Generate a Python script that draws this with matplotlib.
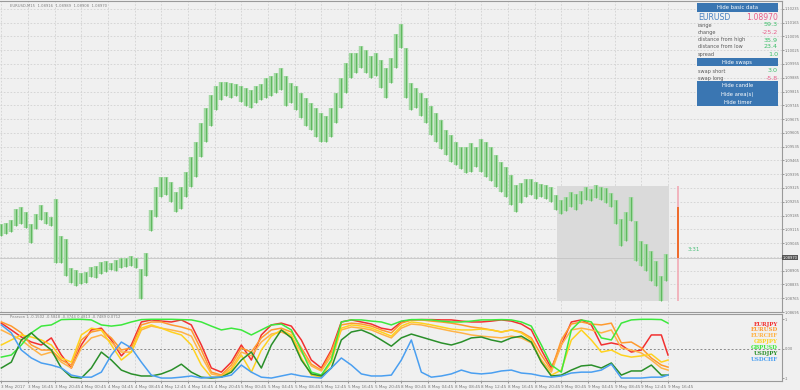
import matplotlib
matplotlib.use("Agg")
import matplotlib.pyplot as plt

# ---------------- data ----------------
# EURUSD M15 price bars, sampled every 3 bars (bar 0 = 3 May 12:45)
bar_idx = list(range(0, 400, 3))
highs = [1.09140,1.09145,1.09160,1.09220,1.09230,1.09205,1.09140,1.09195,1.09240,1.09205,
         1.09180,1.09270,1.09079,1.09064,1.08918,1.08908,1.08893,1.08898,1.08924,1.08929,
         1.08949,1.08954,1.08944,1.08959,1.08969,1.08969,1.08979,1.08969,1.08913,1.08994,
         1.09215,1.09331,1.09381,1.09381,1.09356,1.09305,1.09331,1.09406,1.09481,1.09557,
         1.09657,1.09733,1.09798,1.09843,1.09863,1.09863,1.09858,1.09853,1.09843,1.09833,
         1.09823,1.09843,1.09853,1.09883,1.09893,1.09908,1.09934,1.09893,1.09858,1.09843,
         1.09808,1.09783,1.09758,1.09733,1.09707,1.09692,1.09733,1.09808,1.09883,1.09959,
         1.10009,1.10009,1.10044,1.10024,1.09994,1.10009,1.09974,1.09934,1.09984,1.10109,
         1.10160,1.10034,1.09858,1.09833,1.09808,1.09783,1.09743,1.09707,1.09672,1.09622,
         1.09592,1.09557,1.09532,1.09532,1.09552,1.09532,1.09572,1.09557,1.09532,1.09491,
         1.09456,1.09431,1.09391,1.09341,1.09351,1.09371,1.09371,1.09356,1.09346,1.09341,
         1.09331,1.09290,1.09265,1.09280,1.09305,1.09295,1.09310,1.09331,1.09320,1.09341,
         1.09331,1.09326,1.09300,1.09265,1.09170,1.09205,1.09280,1.09155,1.09054,1.09039,
         1.09004,1.08954,1.08878,1.08989]
lows  = [1.09079,1.09089,1.09099,1.09130,1.09140,1.09120,1.09044,1.09115,1.09160,1.09140,
         1.09130,1.08944,1.08944,1.08878,1.08843,1.08828,1.08838,1.08843,1.08873,1.08868,
         1.08888,1.08898,1.08908,1.08903,1.08918,1.08924,1.08929,1.08918,1.08763,1.08878,
         1.09104,1.09180,1.09280,1.09290,1.09255,1.09205,1.09220,1.09280,1.09331,1.09381,
         1.09481,1.09557,1.09642,1.09723,1.09773,1.09793,1.09783,1.09793,1.09763,1.09743,
         1.09733,1.09758,1.09773,1.09783,1.09793,1.09808,1.09823,1.09743,1.09758,1.09723,
         1.09682,1.09642,1.09622,1.09582,1.09557,1.09557,1.09582,1.09657,1.09733,1.09808,
         1.09883,1.09908,1.09934,1.09908,1.09883,1.09893,1.09833,1.09783,1.09858,1.09934,
         1.10034,1.09783,1.09723,1.09733,1.09692,1.09657,1.09592,1.09557,1.09522,1.09491,
         1.09456,1.09441,1.09421,1.09401,1.09406,1.09431,1.09406,1.09381,1.09361,1.09331,
         1.09305,1.09280,1.09240,1.09205,1.09250,1.09280,1.09290,1.09270,1.09280,1.09270,
         1.09255,1.09215,1.09195,1.09210,1.09230,1.09215,1.09245,1.09265,1.09260,1.09275,
         1.09265,1.09250,1.09230,1.09140,1.09029,1.09054,1.09155,1.08954,1.08929,1.08903,
         1.08853,1.08828,1.08753,1.08853]

last_price = 1.08970
price_ticks = [1.10235 - 0.0007 * k for k in range(23)]

# area box (bars) and its price range
area_bars = (333.5, 400.5)
area_prices = (1.08753, 1.09335)

# Pearson correlation lines, sampled every 6 bars (+ last bar)
corr_idx = list(range(0, 397, 6)) + [400]
eurjpy = [0.86,0.63,0.39,0.22,0.12,0.36,-0.22,-0.66,0.12,0.63,
          0.69,0.29,-0.25,0.12,0.90,0.97,0.93,0.90,0.97,0.80,
          0.12,-0.66,-0.80,-0.46,0.12,-0.39,0.46,0.80,0.86,0.76,
          0.29,-0.39,-0.66,-0.05,0.90,0.97,0.90,0.83,0.69,0.63,
          0.90,0.97,0.98,0.98,0.97,0.97,0.93,0.90,0.90,0.93,
          0.97,0.93,0.83,0.63,-0.05,-0.66,0.12,0.90,0.97,0.80,
          0.12,0.19,0.12,-0.12,-0.05,0.46,0.46,-0.22]
eurusd = [0.90,0.76,0.53,0.12,-0.05,-0.05,-0.39,-0.56,0.29,0.56,
          0.63,0.36,-0.05,0.02,0.80,0.90,0.90,0.80,0.73,0.63,
          -0.05,-0.80,-0.90,-0.56,0.02,-0.12,0.36,0.63,0.69,0.56,
          0.02,-0.53,-0.73,-0.12,0.80,0.86,0.83,0.76,0.63,0.53,
          0.86,0.97,0.97,0.93,0.90,0.86,0.80,0.73,0.69,0.63,
          0.56,0.63,0.56,0.36,-0.22,-0.73,0.29,0.83,0.90,0.83,
          0.80,0.86,0.19,0.22,0.02,-0.32,-0.56,-0.63]
eurchf = [0.63,0.46,0.29,0.02,-0.22,-0.12,-0.46,-0.66,0.02,0.36,
          0.46,0.22,-0.12,-0.12,0.63,0.76,0.69,0.63,0.56,0.42,
          -0.25,-0.86,-0.93,-0.66,-0.12,-0.25,0.22,0.49,0.56,0.42,
          -0.12,-0.59,-0.76,-0.25,0.63,0.73,0.69,0.63,0.49,0.36,
          0.69,0.83,0.80,0.73,0.66,0.59,0.53,0.46,0.42,0.39,
          0.36,0.42,0.36,0.19,-0.39,-0.80,0.12,0.63,0.69,0.63,
          0.53,0.63,0.02,-0.05,-0.15,-0.39,-0.66,-0.73]
gbpjpy = [0.12,0.29,0.46,0.39,0.29,0.12,-0.32,-0.46,0.46,0.69,
          0.63,0.12,-0.39,-0.12,0.69,0.80,0.69,0.56,0.46,0.12,
          -0.56,-0.97,-0.97,-0.73,-0.22,-0.80,-0.05,0.42,0.63,0.46,
          -0.32,-0.90,-0.97,-0.46,0.69,0.80,0.76,0.69,0.56,0.42,
          0.76,0.90,0.86,0.80,0.73,0.66,0.63,0.63,0.66,0.63,
          0.56,0.63,0.53,0.29,-0.46,-0.90,-0.73,0.29,0.63,0.29,
          -0.12,-0.05,-0.22,-0.29,-0.25,-0.19,-0.46,-0.39]
gbpusd = [-0.29,-0.22,0.12,0.53,0.76,0.80,0.98,0.99,0.99,0.97,
          0.80,0.76,0.80,0.90,0.98,0.99,0.99,0.99,0.98,0.97,
          0.90,0.76,0.63,0.69,0.63,0.46,0.63,0.80,0.83,0.63,
          -0.05,-0.80,-0.90,-0.39,0.90,0.97,0.97,0.93,0.90,0.80,
          0.93,0.98,0.98,0.97,0.93,0.90,0.90,0.93,0.97,0.97,
          0.98,0.97,0.90,0.76,0.12,-0.56,-0.80,0.63,0.97,0.90,
          0.36,0.29,0.86,0.97,0.99,0.99,0.98,0.86]
usdjpy = [-0.66,-0.46,0.29,0.53,0.22,-0.05,-0.66,-0.97,-1.00,-0.66,
          -0.12,-0.39,-0.73,-0.86,-0.93,-0.93,-0.86,-0.73,-0.53,-0.80,
          -0.97,-1.00,-0.97,-0.80,-0.39,-0.12,-0.66,0.12,0.63,0.36,
          -0.39,-0.86,-0.93,-0.66,0.29,0.56,0.63,0.49,0.29,0.08,
          0.36,0.49,0.39,0.29,0.19,0.12,0.22,0.36,0.39,0.29,
          0.22,0.36,0.42,0.22,-0.46,-0.93,-0.90,-0.73,-0.59,-0.56,
          -0.66,-0.49,-0.90,-0.76,-0.76,-0.56,-0.90,-0.90]
usdchf = [0.80,0.53,-0.05,-0.32,-0.49,-0.56,-0.66,-0.90,-0.97,-0.97,
          -0.80,-0.22,0.22,0.02,-0.46,-0.90,-1.00,-1.00,-0.97,-0.93,
          -1.00,-0.97,-0.97,-0.90,-0.56,-0.80,-0.97,-1.00,-0.93,-0.86,
          -0.93,-0.97,-1.00,-0.66,-0.32,-0.56,-0.86,-0.93,-0.93,-0.90,
          -0.39,0.29,-0.80,-0.97,-0.93,-0.86,-0.73,-0.83,-0.86,-0.83,
          -0.76,-0.73,-0.83,-0.86,-0.93,-0.97,-0.93,-0.83,-0.80,-0.80,
          -0.73,-0.53,-1.00,-1.00,-1.00,-0.97,-0.97,-0.90]

pair_names = ["EURJPY","EURUSD","EURCHF","GBPJPY","GBPUSD","USDJPY","USDCHF"]
pair_colors = ["#f23030","#ff9a2e","#ffb347","#ffd21f","#3de83d","#2a8f2a","#4a9ff0"]

xtick_labels = ["3 May 2017","3 May 16:45","3 May 20:45","4 May 00:45","4 May 04:45","4 May 08:45",
                "4 May 12:45","4 May 16:45","4 May 20:45","5 May 00:45","5 May 04:45","5 May 08:45",
                "5 May 12:45","5 May 16:45","5 May 20:45","8 May 00:45","8 May 04:45","8 May 08:45",
                "8 May 12:45","8 May 16:45","8 May 20:45","9 May 00:45","9 May 04:45","9 May 08:45",
                "9 May 12:45","9 May 16:45"]

info_rows = ["range", "change", "distance from high", "distance from low", "spread"]
info_vals = ["59.3", "-25.2", "35.9", "23.4", "1.0"]
swap_rows = ["swap short", "swap long"]
swap_vals = ["3.0", "-5.8"]
buttons = ["Hide basic data", "Hide swaps", "Hide candle", "Hide area(s)", "Hide timer"]

# ---------------- figure ----------------
BG = "#f0f0f0"
GRID = "#d2d2d2"
TXT = "#5a5a5a"
GREEN_V = "#3dbf6a"
PINK_V = "#e8608c"
fig = plt.figure(figsize=(8, 3.9), dpi=100, facecolor=BG)

W, H = 800.0, 390.0
def rect(x0, y0, x1, y1):
    return [x0 / W, 1 - y1 / H, (x1 - x0) / W, (y1 - y0) / H]
def fy(y):
    return 1 - y / H
def fx(x):
    return x / W

ax = fig.add_axes(rect(0, 1, 782, 312))
ax2 = fig.add_axes(rect(0, 314, 782, 381))
XL = (-0.8, 468.4)

for a in (ax, ax2):
    a.set_facecolor(BG)
    a.set_xlim(*XL)
    for s in a.spines.values():
        s.set_color("#9a9a9a")
        s.set_linewidth(0.8)
    a.spines["left"].set_visible(False)
    a.yaxis.tick_right()
    a.tick_params(axis="both", colors="#777777", labelsize=2.6, length=1.2, width=0.5, pad=0.8)

# ---- top panel ----
ax.set_ylim(1.087174, 1.10275)
ax.set_yticks(price_ticks)
# the tick under the current-price marker is hidden, as in the terminal
ax.set_yticklabels(["" if abs(t - last_price) < 0.0002 else "%.5f" % t for t in price_ticks])
xt = [16 * k for k in range(26)]
ax.set_xticks(xt)
ax.set_xticklabels([])
ax.tick_params(axis="x", length=0)
ax.grid(True, color=GRID, linestyle=(0, (2, 2)), linewidth=0.6)
ax.set_axisbelow(True)

ax.add_patch(plt.Rectangle((area_bars[0], area_prices[0]), area_bars[1] - area_bars[0],
                           area_prices[1] - area_prices[0], color="#dadada", zorder=1, lw=0))
ax.vlines(bar_idx, lows, highs, color="#a3d9a3", linewidth=3.2, zorder=2)
ax.vlines(bar_idx, lows, highs, color="#5fb85f", linewidth=0.8, zorder=3)
ax.axhline(last_price, color="#c4c4c4", linewidth=0.6, zorder=1.5)
ax.vlines(406, area_prices[0], area_prices[1], color="#f2aab4", linewidth=1.2, zorder=3)
ax.vlines(406, last_price, 1.09230, color="#ef6a2a", linewidth=1.4, zorder=4)
ax.text(412, last_price + 0.00045, "3:31", color="#4cbf7a", fontsize=4.0, va="center", ha="left")
ax.text(1.001, last_price, "%.5f" % last_price, transform=ax.get_yaxis_transform(),
        fontsize=2.6, color="white", ha="left", va="center",
        bbox=dict(boxstyle="square,pad=0.15", fc="#555555", ec="none"))
ax.text(5, 1.10250, "EURUSD,M15  1.08916  1.08989  1.08908  1.08970", fontsize=2.7,
        color="#808080", va="center", ha="left")

# ---- info panel ----
px0, px1 = 697, 778
btn_y = [3.5, 58, 81.5, 90, 98.5]
for yb, lab in zip(btn_y, buttons):
    fig.patches.append(plt.Rectangle((fx(px0), fy(yb + 8)), (px1 - px0) / W, 8 / H,
                                     transform=fig.transFigure, fc="#3a76b2", ec="none"))
    fig.text(fx((px0 + px1) / 2), fy(yb + 4.2), lab, color="white", fontsize=3.8,
             ha="center", va="center")
fig.text(fx(px0 + 1), fy(17.5), "EURUSD", color="#4a82c2", fontsize=5.6, ha="left", va="center")
fig.text(fx(px1), fy(17.5), "1.08970", color=PINK_V, fontsize=5.6, ha="right", va="center")
row_y = [25, 32.5, 40, 47, 54.5]
for yr, lab, val in zip(row_y, info_rows, info_vals):
    fig.text(fx(px0 + 1), fy(yr), lab, color=TXT, fontsize=3.6, ha="left", va="center")
    fig.text(fx(px1), fy(yr), val, color=PINK_V if val.startswith("-") else GREEN_V,
             fontsize=4.6, ha="right", va="center")
for yr, lab, val in zip([71, 78.5], swap_rows, swap_vals):
    fig.text(fx(px0 + 1), fy(yr), lab, color=TXT, fontsize=3.6, ha="left", va="center")
    fig.text(fx(px1), fy(yr), val, color=PINK_V if val.startswith("-") else GREEN_V,
             fontsize=4.6, ha="right", va="center")

# ---- bottom panel ----
ax2.set_ylim(-1.10, 1.17)
ax2.set_yticks([1, 0, -1])
ax2.set_yticklabels(["1", "0.00", "-1"])
ax2.set_xticks(xt)
ax2.set_xticklabels(xtick_labels, ha="left")
ax2.tick_params(axis="x", labelsize=3.0, pad=1.5, length=1.5)
ax2.grid(True, axis="x", color=GRID, linestyle=(0, (2, 2)), linewidth=0.6)
ax2.axhline(0, color="#8a8a8a", linestyle=(0, (2, 2)), linewidth=0.7)
series = [eurjpy, eurusd, eurchf, gbpjpy, gbpusd, usdjpy, usdchf]
for i in [6, 5, 4, 3, 2, 1, 0]:
    ax2.plot(corr_idx, series[i], color=pair_colors[i], linewidth=1.1, zorder=3 + i)
ax2.text(5, 1.07, "Pearson 1 -0.1502 -0.5818 -0.3744 0.4813 -0.7489 0.0712", fontsize=2.7,
         color="#808080", va="center", ha="left", zorder=20)
for k, (nm, c) in enumerate(zip(pair_names, pair_colors)):
    ax2.text(0.995, 0.85 - k * 0.087, nm, transform=ax2.transAxes, color=c, fontsize=4.0,
             fontweight="bold", family="DejaVu Serif", ha="right", va="center", zorder=20)

fig.savefig("out.png", dpi=100, facecolor=BG)
